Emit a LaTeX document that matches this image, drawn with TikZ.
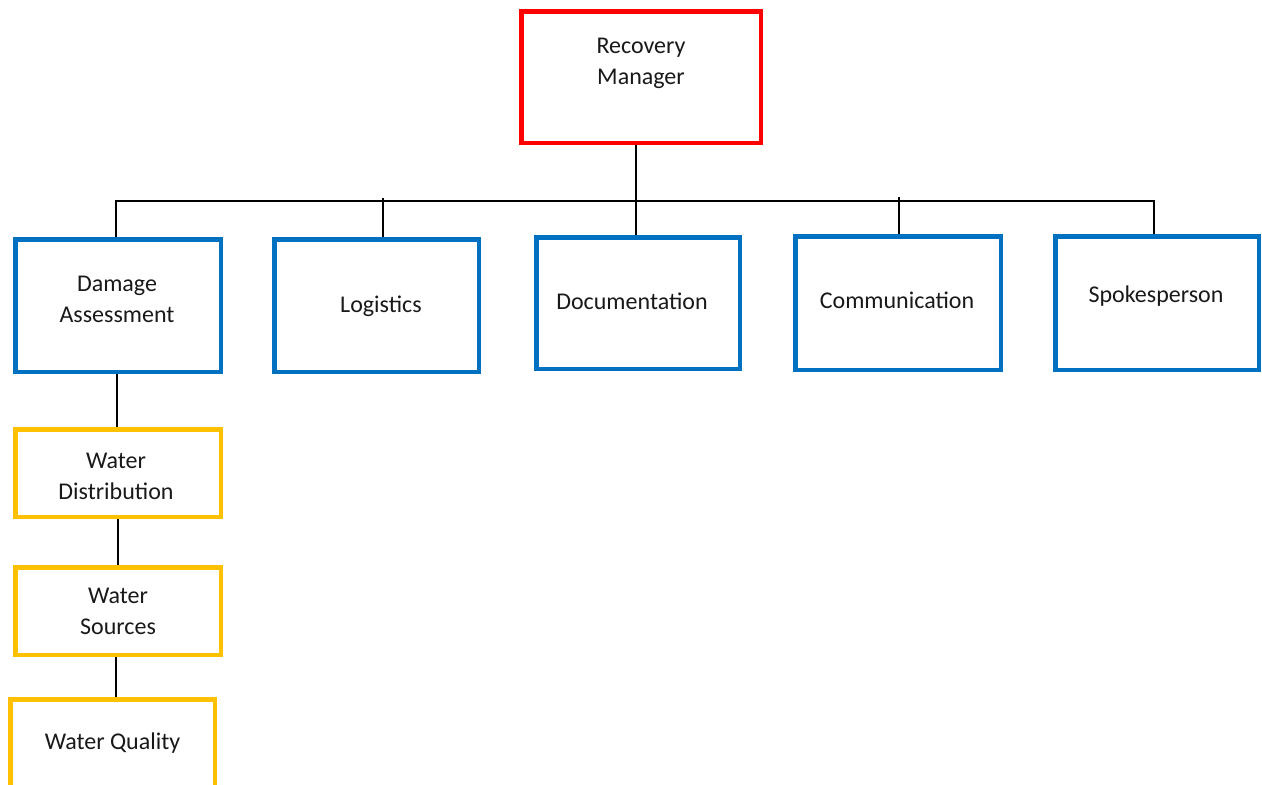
\documentclass[tikz,border=0pt]{standalone}
\usepackage{fontspec}
\setmainfont{Carlito}
\begin{document}
\begin{tikzpicture}[x=1pt,y=-1pt,
  box/.style={draw,line width=4.5pt,rectangle,inner sep=0pt,fill=white},
  redbox/.style={box,draw={rgb,255:red,255;green,0;blue,0}},
  bluebox/.style={box,draw={rgb,255:red,0;green,112;blue,192}},
  goldbox/.style={box,draw={rgb,255:red,255;green,192;blue,0}},
  txt/.style={font=\fontsize{24pt}{31pt}\selectfont,align=center,inner sep=0pt,text=black!90},
  conn/.style={draw=black,line width=1.8pt}]
\clip (0,0) rectangle (1262,785);
\fill[white] (0,0) rectangle (1262,785);
% boxes
\node[redbox,minimum width=239.5pt,minimum height=131.5pt] (rm) at (641,77) {};
\node[bluebox,minimum width=205.5pt,minimum height=132.5pt] (da) at (118,305.5) {};
\node[bluebox,minimum width=204.5pt,minimum height=132.5pt] (lg) at (376.5,305.5) {};
\node[bluebox,minimum width=203.5pt,minimum height=131.5pt] (doc) at (638,303) {};
\node[bluebox,minimum width=205.5pt,minimum height=133.5pt] (com) at (898,303) {};
\node[bluebox,minimum width=203.5pt,minimum height=133.5pt] (sp) at (1157,303) {};
\node[goldbox,minimum width=205.5pt,minimum height=87.5pt] (wd) at (118,473) {};
\node[goldbox,minimum width=205.5pt,minimum height=87.5pt] (ws) at (118,611) {};
\node[goldbox,minimum width=204.5pt,minimum height=87.5pt] (wq) at (112.5,743) {};
% texts
\node[txt] (rmt) at ([yshift=13.5pt]rm.center) {Recovery\\Manager};
\node[txt] (dat) at ([xshift=-1pt,yshift=6.5pt]da.center) {Damage\\Assessment};
\node[txt] (lgt) at ([xshift=4.5pt,yshift=-1pt]lg.center) {Logistics};
\node[txt] (doct) at ([xshift=-6pt,yshift=2pt]doc.center) {Documentation};
\node[txt] (comt) at ([xshift=-1pt,yshift=3pt]com.center) {Communication};
\node[txt] (spt) at ([xshift=-1pt,yshift=7pt]sp.center) {Spokesperson};
\node[txt] (wdt) at ([xshift=-2pt,yshift=-3pt]wd.center) {Water\\Distribution};
\node[txt] (wst) at ([xshift=0pt,yshift=-0.5pt]ws.center) {Water\\Sources};
\node[txt] (wqt) at ([yshift=0pt]wq.center) {Water Quality};
% bus coordinates
\coordinate (bda) at (116,201);
\coordinate (blg) at (383,201);
\coordinate (bdoc) at (636,201);
\coordinate (bcom) at (899,201);
\coordinate (bsp) at (1154,201);
% connectors
\draw[conn] (bda |- da.north) -- (bda) -- (bsp) -- (bsp |- sp.north);
\draw[conn] (bdoc |- rm.south) -- (bdoc |- doc.north);
\draw[conn] ([yshift=3pt]blg) -- (blg |- lg.north);
\draw[conn] ([yshift=4pt]bcom) -- (bcom |- com.north);
\coordinate (vd) at (117,0);
\draw[conn] (vd |- da.south) -- (vd |- wd.north);
\draw[conn] (wd.south) -- (wd.south |- ws.north);
\coordinate (vs) at (116,0);
\draw[conn] (vs |- ws.south) -- (vs |- wq.north);
\end{tikzpicture}
\end{document}
